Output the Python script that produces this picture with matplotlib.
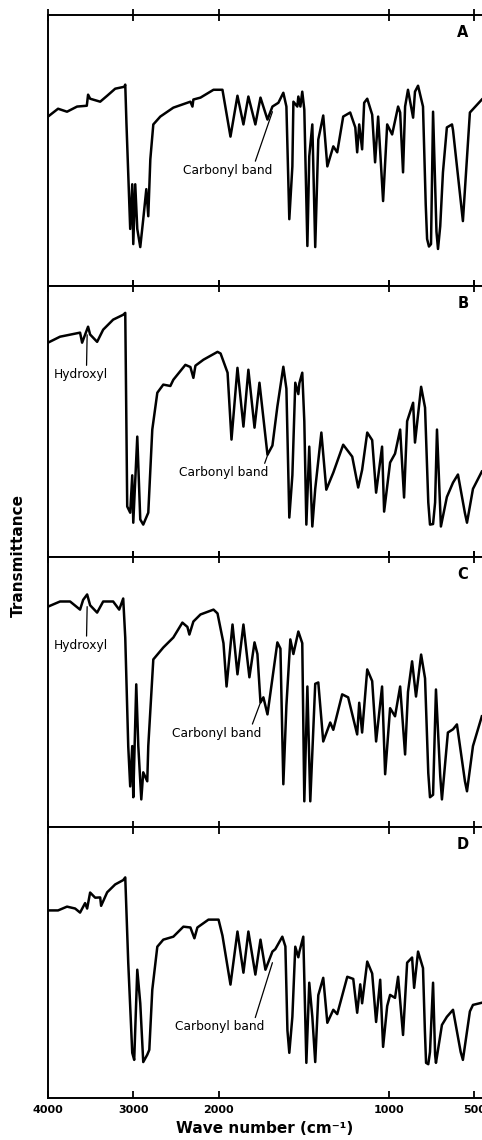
import numpy as np
import matplotlib
matplotlib.use('Agg')
import matplotlib.pyplot as plt

# IR spectra (wave number in cm-1, transmittance as % of panel height)
wn_a = [4000, 3882, 3777, 3659, 3545, 3530, 3506, 3388, 3306, 3212, 3106, 3094, 3080, 3036, 3012, 3000,
        2977, 2953, 2918, 2883, 2847, 2824, 2800, 2765, 2683, 2530, 2330, 2306, 2295, 2212, 2059, 1977,
        1930, 1889, 1854, 1825, 1784, 1754, 1713, 1684, 1649, 1620, 1602, 1585, 1567, 1561, 1538, 1532,
        1520, 1509, 1497, 1479, 1468, 1450, 1433, 1415, 1386, 1362, 1327, 1304, 1269, 1228, 1198, 1187,
        1175, 1158, 1146, 1128, 1099, 1082, 1064, 1035, 1011, 982, 947, 935, 918, 906, 889, 859, 848,
        830, 801, 785, 777, 766, 754, 742, 722, 713, 700, 684, 661, 631, 625, 567, 526, 456]
tr_a = [62.5, 65.4, 64.3, 66.2, 66.5, 70.6, 69.1, 68.0, 70.2, 72.8, 73.5, 74.3, 60, 21.0, 37.5, 15.4,
        37.5, 21.0, 14.3, 24.6, 35.7, 25.7, 46.7, 59.6, 62.5, 65.8, 68.0, 66.2, 68.8, 69.5, 72.4, 72.4,
        55.1, 70.2, 59.6, 69.9, 59.6, 69.5, 61.4, 66.2, 67.6, 71.3, 66.2, 24.6, 44.1, 68.0, 66.2, 69.9,
        66.2, 71.7, 65.1, 14.7, 47.8, 59.6, 14.3, 54.0, 62.9, 44.1, 51.5, 49.3, 62.5, 64.0, 58.5, 49.3,
        59.6, 50.4, 67.6, 69.1, 63.2, 45.6, 62.5, 31.3, 59.6, 55.9, 66.2, 64.0, 41.9, 66.2, 72.4, 62.1, 71.7,
        73.9, 66.2, 30, 17.3, 14.5, 15.4, 64.3, 20, 13.6, 22, 41.9, 58.5, 59.6, 57.5, 23.9, 64.0, 68.8]

wn_b = [4000, 3859, 3624, 3600, 3530, 3506, 3424, 3353, 3236, 3118, 3094, 3071, 3036, 3012, 3000, 2953,
        2918, 2883, 2824, 2777, 2718, 2648, 2565, 2530, 2389, 2330, 2295, 2271, 2177, 2012, 1988, 1947,
        1924, 1889, 1854, 1825, 1789, 1760, 1713, 1684, 1655, 1620, 1602, 1585, 1567, 1550, 1532, 1526,
        1509, 1497, 1485, 1468, 1450, 1433, 1397, 1368, 1327, 1269, 1216, 1181, 1158, 1128, 1099, 1076,
        1041, 1029, 994, 965, 935, 912, 894, 859, 848, 812, 789, 770, 760, 742, 730, 719, 696, 661, 625,
        596, 555, 543, 508, 456]
tr_b = [79.0, 81.2, 82.7, 79.0, 84.9, 82, 79.3, 83.8, 87.5, 89.3, 90.0, 18.5, 16.2, 30, 12.5, 44.3,
        13.7, 11.8, 16.2, 46.9, 60.5, 63.5, 63, 65.3, 70.8, 70, 66, 70.5, 72.7, 75.6, 75, 67.9,
        43.2, 69.7, 48.0, 69.0, 47.6, 64.2, 37.6, 41, 55.4, 70.1, 62, 14.4, 30, 64.2, 60, 64,
        67.9, 50, 11.8, 40.6, 11.1, 25, 45.8, 24.7, 31.0, 41.3, 36.9, 25.5, 32, 45.8, 43, 23.6,
        40.6, 16.6, 34.7, 38, 46.9, 21.8, 50, 56.8, 42.1, 62.7, 55, 20, 11.8, 12, 20, 46.9, 11.1, 22, 27.3,
        30.3, 16, 12.5, 25, 31.4]

wn_c = [4000, 3859, 3741, 3624, 3588, 3541, 3506, 3424, 3353, 3236, 3165, 3118, 3094, 3059, 3036, 3012,
        3000, 2965, 2941, 2906, 2883, 2836, 2824, 2765, 2648, 2530, 2424, 2365, 2342, 2295, 2212, 2059,
        2012, 1971, 1953, 1918, 1889, 1854, 1819, 1789, 1772, 1754, 1737, 1713, 1684, 1655, 1637, 1620,
        1602, 1579, 1561, 1532, 1509, 1497, 1479, 1462, 1433, 1415, 1386, 1345, 1327, 1275, 1240, 1187,
        1175, 1158, 1128, 1099, 1076, 1041, 1023, 994, 965, 935, 906, 889, 865, 842, 812, 789, 770, 760,
        742, 725, 700, 690, 655, 625, 602, 555, 543, 508, 456]
tr_c = [81.5, 83.4, 83.4, 80.4, 84, 86.0, 82, 79.3, 83.4, 83.4, 80.4, 84.5, 70, 29.9, 15.1, 30,
        11.1, 52.8, 30, 10.3, 20.3, 17.0, 30, 62.0, 66.4, 70.1, 75.6, 74, 71.2, 76, 78.6, 80.4,
        79, 68, 52.0, 74.9, 56.5, 74.9, 55.4, 68.3, 64, 46.1, 48, 41.7, 55, 68.3, 66, 15.9,
        45, 69.4, 64, 72.3, 68, 9.6, 52.0, 9.6, 53, 53.5, 31.7, 38.7, 36, 49.1, 48, 34.3,
        46, 35, 58.3, 54, 31.7, 52.0, 19.6, 44, 41.0, 52.0, 26.9, 50, 61.3, 48.3, 63.8, 55, 20, 11.1,
        12, 50.9, 19, 10.3, 35, 36.2, 38, 17, 13.3, 30, 41.0]

wn_d = [4000, 3882, 3777, 3682, 3624, 3565, 3541, 3506, 3447, 3388, 3377, 3306, 3212, 3118, 3094, 3059,
        3012, 2989, 2953, 2918, 2883, 2836, 2812, 2777, 2718, 2648, 2530, 2412, 2330, 2283, 2248, 2118,
        2000, 1977, 1930, 1889, 1854, 1825, 1784, 1754, 1725, 1684, 1667, 1626, 1608, 1596, 1585, 1567,
        1550, 1532, 1526, 1503, 1485, 1468, 1450, 1433, 1415, 1386, 1362, 1327, 1304, 1245, 1210, 1187,
        1169, 1158, 1128, 1099, 1076, 1052, 1035, 1011, 994, 965, 947, 918, 894, 865, 853, 830, 801, 790,
        783, 770, 760, 742, 730, 725, 690, 661, 625, 580, 567, 526, 508, 456]
tr_d = [69.3, 69.3, 70.7, 70, 68.5, 72, 70, 75.9, 74, 74.1, 71, 76, 78.9, 80.5, 81.5, 50,
        16.7, 14.1, 47.4, 35, 13.3, 16, 17.8, 40, 55.9, 58.5, 59.6, 63.3, 63, 59, 63, 65.9,
        65.9, 60, 41.9, 61.5, 46.3, 61.5, 45.6, 58.5, 47.4, 54.1, 55, 59.6, 56, 25, 16.7, 30,
        55.9, 52, 54, 59.6, 13.0, 42.6, 30, 13.3, 38, 44.4, 27.8, 32.6, 31, 44.8, 44, 31.5,
        42, 35, 50.4, 46, 28.1, 43.7, 18.9, 34, 38.1, 37, 44.8, 23.3, 50.0, 51.9, 40.7, 54.1, 48, 25,
        13.0, 12.5, 17, 42.6, 16, 13.0, 27, 30.0, 32.6, 17, 14.1, 32, 34.4, 35.2]

panel_letters = ['A', 'B', 'C', 'D']
tick_values = [4000, 3000, 2000, 1000, 500]


# scale change at 2000 cm-1 (below it the chart is expanded by 2)
def fwd(w):
    w = np.asarray(w, dtype=float)
    return np.where(w >= 2000, w, 2 * w - 2000)


def inv(u):
    u = np.asarray(u, dtype=float)
    return np.where(u >= 2000, u, (u + 2000) / 2)


fig, axs = plt.subplots(4, 1, figsize=(4.82, 11.4), dpi=100)
fig.subplots_adjust(left=0.0996, right=1.0, top=0.9868, bottom=0.0368, hspace=0)

spectra = [(wn_a, tr_a), (wn_b, tr_b), (wn_c, tr_c), (wn_d, tr_d)]

for i, ax in enumerate(axs):
    wn, tr = spectra[i]
    ax.set_xscale('function', functions=(fwd, inv))
    ax.plot(wn, tr, color='black', lw=1.8, solid_joinstyle='round')
    ax.set_xlim(4000, 455)
    ax.set_ylim(0, 100)
    ax.set_yticks([])
    ax.set_xticks(tick_values)
    ax.spines['right'].set_visible(False)
    for s in ['left', 'top', 'bottom']:
        ax.spines[s].set_linewidth(1.4)
    if i < 3:
        ax.tick_params(axis='x', top=True, bottom=True, direction='inout', length=8, width=1.3,
                       labelbottom=False)
    else:
        ax.tick_params(axis='x', top=True, bottom=True, direction='in', length=5, width=1.3,
                       labelsize=8, pad=5)
        ax.set_xticklabels([str(v) for v in tick_values], fontweight='bold')
    ax.text(0.956, 0.935, panel_letters[i], transform=ax.transAxes, ha='center', va='center',
            fontsize=10.5, fontweight='bold')

# labels on the bands
line_kw = dict(arrowstyle='-', color='black', lw=0.9, shrinkA=0, shrinkB=0)
fs = 8.8
axs[0].annotate('Carbonyl band', xy=(1684, 64.3), xytext=(1947, 42.6), ha='center', va='center',
                fontsize=fs, arrowprops=dict(relpos=(0.8, 1.0), **line_kw))
axs[1].annotate('Hydroxyl', xy=(3541, 81.9), xytext=(3612, 67.2), ha='center', va='center',
                fontsize=fs, arrowprops=dict(relpos=(0.6, 1.0), **line_kw))
axs[1].annotate('Carbonyl band', xy=(1707, 38.4), xytext=(1971, 31.0), ha='center', va='center',
                fontsize=fs, arrowprops=dict(relpos=(0.95, 1.0), **line_kw))
axs[2].annotate('Hydroxyl', xy=(3541, 81.5), xytext=(3612, 67.2), ha='center', va='center',
                fontsize=fs, arrowprops=dict(relpos=(0.6, 1.0), **line_kw))
axs[2].annotate('Carbonyl band', xy=(1754, 46.1), xytext=(2024, 34.7), ha='center', va='center',
                fontsize=fs, arrowprops=dict(relpos=(0.89, 1.0), **line_kw))
axs[3].annotate('Carbonyl band', xy=(1684, 50.0), xytext=(1994, 26.3), ha='center', va='center',
                fontsize=fs, arrowprops=dict(relpos=(0.89, 1.0), **line_kw))

axs[3].set_xlabel('Wave number (cm⁻¹)', fontsize=11, fontweight='bold', labelpad=4)
fig.text(18 / 482, 1 - 555 / 1140, 'Transmittance', rotation=90, ha='center', va='center',
         fontsize=11, fontweight='bold')

fig.savefig('out.png', dpi=100)
